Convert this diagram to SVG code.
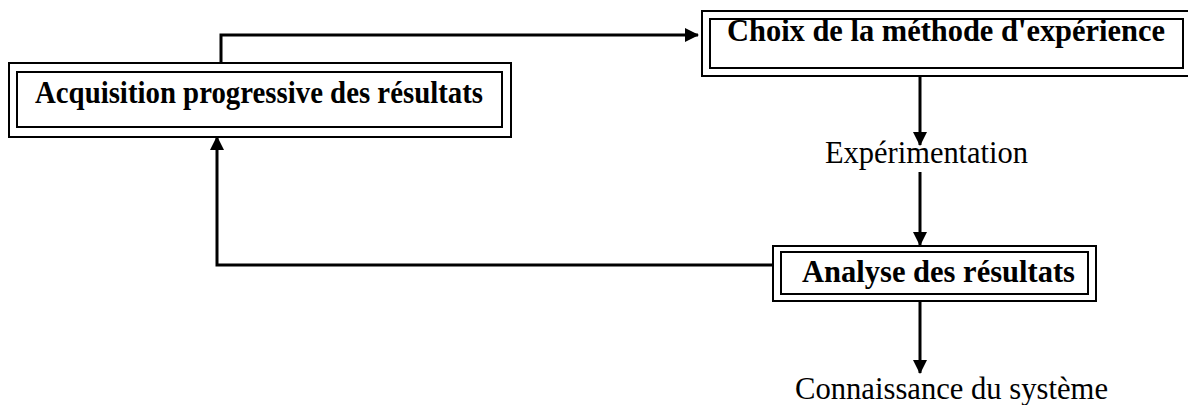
<svg xmlns="http://www.w3.org/2000/svg" width="1188" height="405" viewBox="0 0 1188 405">
<style>
.box{fill:none;stroke:#000;stroke-width:2}
.bt{font-family:"Liberation Serif","Times New Roman",serif;font-weight:bold;font-size:30.5px;fill:#000}
.lt{font-family:"Liberation Serif","Times New Roman",serif;font-size:30.5px;fill:#000}
.c{fill:none;stroke:#000;stroke-width:3}
</style>
<defs>
<marker id="ah" markerUnits="userSpaceOnUse" markerWidth="14" markerHeight="14" viewBox="0 0 14 14" refX="13" refY="7" orient="auto">
<path d="M0,0 L14,7 L0,14 Z" fill="#000"/>
</marker>
</defs>
<rect width="1188" height="405" fill="#fff"/>
<g id="connectors">
<path class="c" d="M221,63 V35 H698" marker-end="url(#ah)"/>
<path class="c" d="M920,76 V145" marker-end="url(#ah)"/>
<path class="c" d="M920,172 V245" marker-end="url(#ah)"/>
<path class="c" d="M773,265 H217 V137" marker-end="url(#ah)"/>
<path class="c" d="M920,301 V373" marker-end="url(#ah)"/>
</g>
<g id="acquisition">
<rect class="box" x="9" y="63" width="502" height="74"/>
<rect class="box" x="17" y="72" width="485" height="55"/>
<text class="bt" x="35" y="103" font-size="28" textLength="448" lengthAdjust="spacingAndGlyphs">Acquisition progressive des résultats</text>
</g>
<g id="choix">
<rect class="box" x="702" y="11" width="490" height="65"/>
<rect class="box" x="710" y="19" width="473" height="49"/>
<text class="bt" x="727" y="41" textLength="438" lengthAdjust="spacingAndGlyphs">Choix de la méthode d'expérience</text>
</g>
<g id="experimentation">
<text class="lt" x="825" y="163" textLength="203" lengthAdjust="spacingAndGlyphs">Expérimentation</text>
</g>
<g id="analyse">
<rect class="box" x="773" y="246" width="323" height="55"/>
<rect class="box" x="781" y="252" width="307" height="42"/>
<text class="bt" x="802" y="282" textLength="273" lengthAdjust="spacingAndGlyphs">Analyse des résultats</text>
</g>
<g id="connaissance">
<text class="lt" x="795" y="399" textLength="313" lengthAdjust="spacingAndGlyphs">Connaissance du système</text>
</g>
</svg>
